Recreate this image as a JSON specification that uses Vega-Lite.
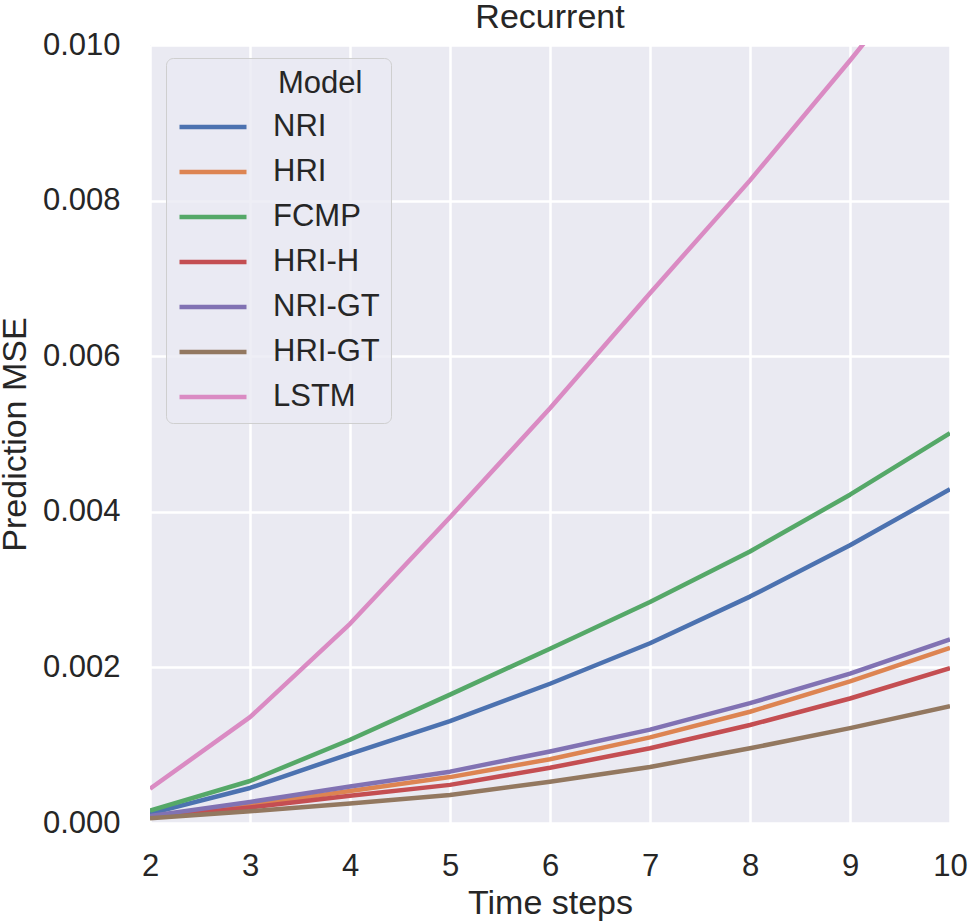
{
  "$schema": "https://vega.github.io/schema/vega-lite/v6.json",
  "width": 800,
  "height": 778,
  "autosize": {"type": "none"},
  "padding": {"left": 150, "top": 45, "right": 19, "bottom": 100},
  "background": "white",
  "title": {"text": "Recurrent", "fontSize": 34, "font": "Liberation Sans", "fontWeight": "normal", "color": "#262626", "offset": -6},
  "config": {
    "view": {"fill": "#EAEAF2", "stroke": null},
    "font": "Liberation Sans",
    "axis": {
      "grid": true, "gridColor": "white", "gridWidth": 2.5, "domain": false, "ticks": false, "tickSize": 0,
      "labelFontSize": 31, "labelColor": "#262626", "titleFontSize": 34, "titleColor": "#262626", "titleFontWeight": "normal",
      "labelFont": "Liberation Sans", "titleFont": "Liberation Sans", "labelFlush": false
    }
  },
  "data": {"values": [
    {"model": "NRI", "t": 2, "mse": 0.00012}, {"model": "NRI", "t": 3, "mse": 0.00045}, {"model": "NRI", "t": 4, "mse": 0.00089}, {"model": "NRI", "t": 5, "mse": 0.00131}, {"model": "NRI", "t": 6, "mse": 0.00179}, {"model": "NRI", "t": 7, "mse": 0.00231}, {"model": "NRI", "t": 8, "mse": 0.00291}, {"model": "NRI", "t": 9, "mse": 0.00357}, {"model": "NRI", "t": 10, "mse": 0.00429},
    {"model": "HRI", "t": 2, "mse": 0.00008}, {"model": "HRI", "t": 3, "mse": 0.00023}, {"model": "HRI", "t": 4, "mse": 0.00041}, {"model": "HRI", "t": 5, "mse": 0.00059}, {"model": "HRI", "t": 6, "mse": 0.00082}, {"model": "HRI", "t": 7, "mse": 0.00110}, {"model": "HRI", "t": 8, "mse": 0.00143}, {"model": "HRI", "t": 9, "mse": 0.00182}, {"model": "HRI", "t": 10, "mse": 0.00225},
    {"model": "FCMP", "t": 2, "mse": 0.00016}, {"model": "FCMP", "t": 3, "mse": 0.00054}, {"model": "FCMP", "t": 4, "mse": 0.00107}, {"model": "FCMP", "t": 5, "mse": 0.00165}, {"model": "FCMP", "t": 6, "mse": 0.00224}, {"model": "FCMP", "t": 7, "mse": 0.00284}, {"model": "FCMP", "t": 8, "mse": 0.00349}, {"model": "FCMP", "t": 9, "mse": 0.00422}, {"model": "FCMP", "t": 10, "mse": 0.00501},
    {"model": "HRI-H", "t": 2, "mse": 0.00007}, {"model": "HRI-H", "t": 3, "mse": 0.00020}, {"model": "HRI-H", "t": 4, "mse": 0.00035}, {"model": "HRI-H", "t": 5, "mse": 0.00049}, {"model": "HRI-H", "t": 6, "mse": 0.00071}, {"model": "HRI-H", "t": 7, "mse": 0.00096}, {"model": "HRI-H", "t": 8, "mse": 0.00126}, {"model": "HRI-H", "t": 9, "mse": 0.00160}, {"model": "HRI-H", "t": 10, "mse": 0.00199},
    {"model": "NRI-GT", "t": 2, "mse": 0.00009}, {"model": "NRI-GT", "t": 3, "mse": 0.00027}, {"model": "NRI-GT", "t": 4, "mse": 0.00047}, {"model": "NRI-GT", "t": 5, "mse": 0.00066}, {"model": "NRI-GT", "t": 6, "mse": 0.00092}, {"model": "NRI-GT", "t": 7, "mse": 0.00120}, {"model": "NRI-GT", "t": 8, "mse": 0.00154}, {"model": "NRI-GT", "t": 9, "mse": 0.00192}, {"model": "NRI-GT", "t": 10, "mse": 0.00236},
    {"model": "HRI-GT", "t": 2, "mse": 0.00006}, {"model": "HRI-GT", "t": 3, "mse": 0.00015}, {"model": "HRI-GT", "t": 4, "mse": 0.00025}, {"model": "HRI-GT", "t": 5, "mse": 0.00036}, {"model": "HRI-GT", "t": 6, "mse": 0.00053}, {"model": "HRI-GT", "t": 7, "mse": 0.00072}, {"model": "HRI-GT", "t": 8, "mse": 0.00096}, {"model": "HRI-GT", "t": 9, "mse": 0.00122}, {"model": "HRI-GT", "t": 10, "mse": 0.00150},
    {"model": "LSTM", "t": 2, "mse": 0.00044}, {"model": "LSTM", "t": 3, "mse": 0.00136}, {"model": "LSTM", "t": 4, "mse": 0.00256}, {"model": "LSTM", "t": 5, "mse": 0.00393}, {"model": "LSTM", "t": 6, "mse": 0.00533}, {"model": "LSTM", "t": 7, "mse": 0.00681}, {"model": "LSTM", "t": 8, "mse": 0.00826}, {"model": "LSTM", "t": 9, "mse": 0.00980}, {"model": "LSTM", "t": 10, "mse": 0.0114}
  ]},
  "mark": {"type": "line", "strokeWidth": 4.5, "clip": true, "strokeJoin": "round", "strokeCap": "butt"},
  "encoding": {
    "x": {"field": "t", "type": "quantitative", "title": "Time steps",
      "scale": {"domain": [2, 10], "nice": false, "zero": false},
      "axis": {"values": [2, 3, 4, 5, 6, 7, 8, 9, 10], "format": "d", "labelPadding": 28, "titlePadding": 5}},
    "y": {"field": "mse", "type": "quantitative", "title": "Prediction MSE",
      "scale": {"domain": [0, 0.01], "nice": false},
      "axis": {"values": [0, 0.002, 0.004, 0.006, 0.008, 0.01], "format": ".3f", "labelPadding": 30, "titlePadding": 10}},
    "color": {"field": "model", "type": "nominal", "title": "Model",
      "sort": ["NRI", "HRI", "FCMP", "HRI-H", "NRI-GT", "HRI-GT", "LSTM"],
      "scale": {"domain": ["NRI", "HRI", "FCMP", "HRI-H", "NRI-GT", "HRI-GT", "LSTM"],
        "range": ["#4C72B0", "#DD8452", "#55A868", "#C44E52", "#8172B3", "#937860", "#DA8BC3"]},
      "legend": {
        "orient": "none", "legendX": 16, "legendY": 13,
        "symbolType": "stroke", "symbolSize": 4489, "symbolStrokeWidth": 4.5, "clipHeight": 30,
        "labelOffset": 24, "labelFontSize": 31, "labelColor": "#262626", "labelFont": "Liberation Sans",
        "titleFontSize": 31, "titleColor": "#262626", "titleFontWeight": "normal", "titleFont": "Liberation Sans",
        "titleAnchor": "middle", "titleAlign": "left", "titlePadding": 12,
        "rowPadding": 14, "padding": 11,
        "fillColor": "rgba(234,234,242,0.8)", "strokeColor": "#cfcfcf", "cornerRadius": 7
      }
    }
  }
}
